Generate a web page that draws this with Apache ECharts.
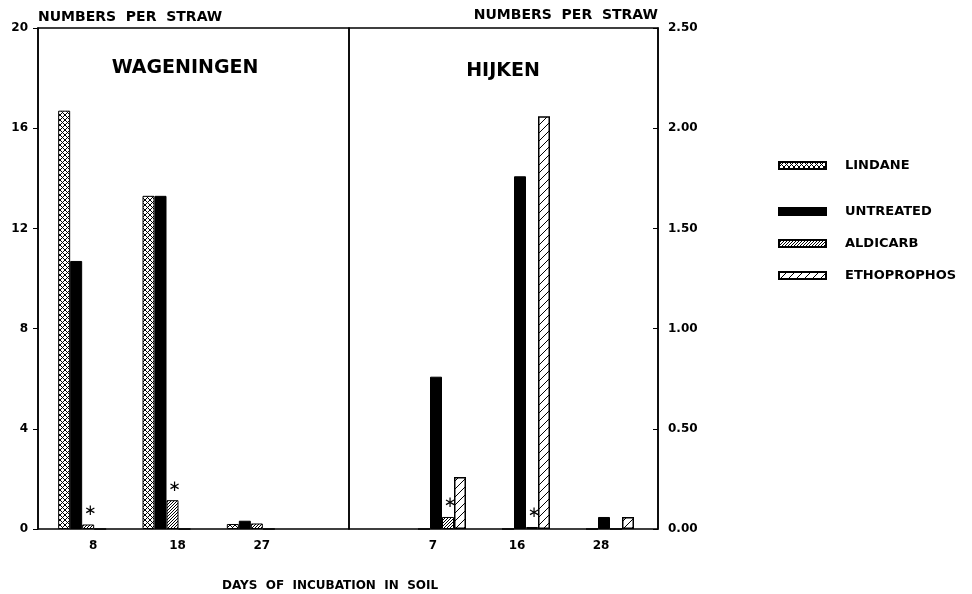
<!DOCTYPE html>
<html>
<head>
<meta charset="utf-8">
<script src="https://cdn.jsdelivr.net/npm/echarts@6/dist/echarts.min.js"></script>
<style>
  html, body { margin: 0; padding: 0; background: #fff; }
  #chart { width: 972px; height: 594px; }
</style>
</head>
<body>
<div id="chart"></div>
<script>
// Treatments, in legend and bar order
const treatments = ['LINDANE', 'UNTREATED', 'ALDICARB', 'ETHOPROPHOS'];

// Days of incubation in soil at each site
const wageningenDays = ['8', '18', '27'];
const hijkenDays = ['7', '16', '28'];

// Wageningen: numbers per straw (left scale)
const wagLindane     = [16.7, 13.3, 0.2];
const wagUntreated   = [10.7, 13.3, 0.33];
const wagAldicarb    = [0.18, 1.15, 0.22];
const wagEthoprophos = [0, 0, 0];
const wagAldicarbStar = [true, true, false];

// Hijken: numbers per straw (right scale)
const hijLindane     = [0, 0, 0];
const hijUntreated   = [0.76, 1.76, 0.06];
const hijAldicarb    = [0.06, 0.01, 0];
const hijEthoprophos = [0.26, 2.06, 0.06];
const hijAldicarbStar = [true, true, false];

// Axis ranges
const leftScale = { min: 0, max: 20, interval: 4 };
const rightScale = { min: 0, max: 2.5, interval: 0.5 };

const FONT = 'DejaVu Sans';

// Monochrome hatch fills drawn on small repeating canvases
function tile(size, draw) {
  const c = document.createElement('canvas');
  c.width = size; c.height = size;
  const g = c.getContext('2d');
  g.fillStyle = '#fff';
  g.fillRect(0, 0, size, size);
  g.strokeStyle = '#000';
  g.lineWidth = 1;
  g.beginPath();
  draw(g, size);
  g.stroke();
  return { image: c, repeat: 'repeat' };
}
function slash(g, s) {
  g.moveTo(-1, s + 1); g.lineTo(s + 1, -1);
  g.moveTo(-1, 1); g.lineTo(1, -1);
  g.moveTo(s - 1, s + 1); g.lineTo(s + 1, s - 1);
}
function backslash(g, s) {
  g.moveTo(-1, -1); g.lineTo(s + 1, s + 1);
  g.moveTo(s - 1, -1); g.lineTo(s + 1, 1);
  g.moveTo(-1, s - 1); g.lineTo(1, s + 1);
}
const fills = [
  tile(5, (g, s) => { slash(g, s); backslash(g, s); }),
  '#000',
  tile(3, slash),
  tile(8, slash)
];

const textBase = { fontFamily: FONT, fontWeight: 'bold', color: '#000' };

function panelSeries(axisIndex, values, stars) {
  return treatments.map((name, k) => {
    const s = {
      name: name,
      type: 'bar',
      xAxisIndex: axisIndex,
      yAxisIndex: axisIndex,
      barWidth: 12,
      barGap: '0%',
      itemStyle: { color: fills[k], borderColor: '#000', borderWidth: k === 3 ? 1.5 : 1 },
      emphasis: { disabled: true },
      data: values[k]
    };
    if (k === 2) {
      // significance marker above the aldicarb bar
      s.label = {
        show: false, position: 'top', distance: 6, formatter: '\u2217',
        color: '#000', fontFamily: FONT, fontSize: 15, offset: [2, 0]
      };
      s.data = values[k].map((v, i) => ({ value: v, label: { show: stars[i] } }));
    }
    return s;
  });
}

const frameAxis = (i) => ({ gridIndex: i, type: 'value', show: false });

const option = {
  animation: false,
  backgroundColor: '#fff',
  title: [
    { text: 'WAGENINGEN', left: 185, top: 59, textAlign: 'center', padding: 0,
      textStyle: Object.assign({ fontSize: 19 }, textBase) },
    { text: 'HIJKEN', left: 503, top: 62, textAlign: 'center', padding: 0,
      textStyle: Object.assign({ fontSize: 19 }, textBase) },
    { text: 'DAYS  OF  INCUBATION  IN  SOIL', left: 330, top: 580, textAlign: 'center', padding: 0,
      textStyle: Object.assign({ fontSize: 12 }, textBase) }
  ],
  legend: [
    { data: ['LINDANE'], left: 778, top: 159, padding: 0, icon: 'rect',
      itemWidth: 47, itemHeight: 7, selectedMode: false,
      textStyle: Object.assign({ fontSize: 13, padding: [0, 0, 0, 14] }, textBase) },
    { data: ['UNTREATED', 'ALDICARB', 'ETHOPROPHOS'], orient: 'vertical', left: 778, top: 205,
      padding: 0, icon: 'rect', itemWidth: 47, itemHeight: 7, itemGap: 19, selectedMode: false,
      textStyle: Object.assign({ fontSize: 13, padding: [0, 0, 0, 14] }, textBase) }
  ],
  grid: [
    { left: 38, top: 28, width: 311, bottom: 65, show: true, borderColor: '#000', borderWidth: 1.5, backgroundColor: 'transparent' },
    { left: 349, top: 28, width: 309, bottom: 65, show: true, borderColor: '#000', borderWidth: 1.5, backgroundColor: 'transparent' },
    { left: 40, top: 28, width: 253, bottom: 65 },
    { left: 400, top: 28, width: 252, bottom: 65 }
  ],
  xAxis: [
    frameAxis(0), frameAxis(1),
    { gridIndex: 2, type: 'category', data: wageningenDays,
      axisLine: { show: false }, axisTick: { show: false },
      axisLabel: Object.assign({ fontSize: 12, margin: 11, padding: [0, 0, 0, 22] }, textBase) },
    { gridIndex: 3, type: 'category', data: hijkenDays,
      axisLine: { show: false }, axisTick: { show: false },
      axisLabel: Object.assign({ fontSize: 12, margin: 11, padding: [0, 18, 0, 0] }, textBase) }
  ],
  yAxis: [
    frameAxis(0), frameAxis(1),
    { gridIndex: 2, type: 'value', position: 'left', offset: 2,
      min: leftScale.min, max: leftScale.max, interval: leftScale.interval,
      name: 'NUMBERS  PER  STRAW', nameLocation: 'end', nameGap: 4,
      nameTextStyle: Object.assign({ fontSize: 14, align: 'left', verticalAlign: 'bottom' }, textBase),
      axisLine: { show: true, lineStyle: { color: '#000', width: 1.5 } },
      axisTick: { show: true, inside: false, length: 5, lineStyle: { color: '#000', width: 1 } },
      splitLine: { show: false },
      axisLabel: Object.assign({ fontSize: 12, margin: 10 }, textBase) },
    { gridIndex: 3, type: 'value', position: 'right', offset: 6,
      min: rightScale.min, max: rightScale.max, interval: rightScale.interval,
      name: 'NUMBERS  PER  STRAW', nameLocation: 'end', nameGap: 6,
      nameTextStyle: Object.assign({ fontSize: 14, align: 'right', verticalAlign: 'bottom' }, textBase),
      axisLine: { show: true, lineStyle: { color: '#000', width: 1.5 } },
      axisTick: { show: true, inside: true, length: 5, lineStyle: { color: '#000', width: 1 } },
      splitLine: { show: false },
      axisLabel: Object.assign({ fontSize: 12, margin: 10, formatter: (v) => v.toFixed(2) }, textBase) }
  ],
  series: [].concat(
    panelSeries(2, [wagLindane, wagUntreated, wagAldicarb, wagEthoprophos], wagAldicarbStar),
    panelSeries(3, [hijLindane, hijUntreated, hijAldicarb, hijEthoprophos], hijAldicarbStar)
  )
};

const chart = echarts.init(document.getElementById('chart'), null, { renderer: 'canvas' });
chart.setOption(option);
</script>
</body>
</html>
